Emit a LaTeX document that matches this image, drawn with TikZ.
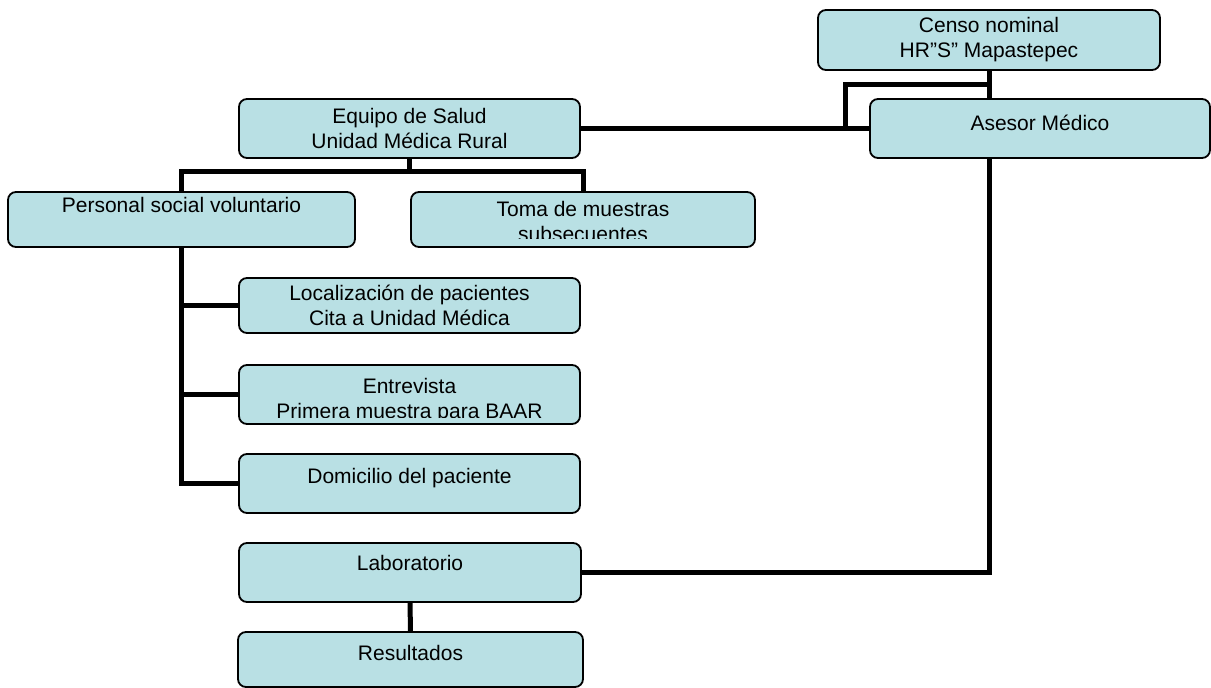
\documentclass[tikz,border=0pt]{standalone}
\usepackage{fontspec}
\setmainfont{Liberation Sans}
\usetikzlibrary{positioning}
\definecolor{boxblue}{HTML}{B9E0E4}

\tikzset{
  orgbox/.style={draw,line width=0.9pt,rounded corners=4pt,fill=boxblue,inner sep=0pt},
  orgtext/.style={align=center,inner sep=0pt,font=\fontsize{10.5}{12.5}\selectfont},
  link/.style={line width=2.5pt}
}

\begin{document}
\begin{tikzpicture}[x=0.5pt,y=-0.5pt]
  \useasboundingbox (0,0) rectangle (1211,688);
  % boxes
  \node[orgbox,minimum width=171pt,minimum height=30pt] (censo) at (989,40) {};
  \node[orgbox,minimum width=170pt,minimum height=29.5pt] (asesor) at (1040,128.5) {};
  \node[orgbox,minimum width=170.5pt,minimum height=29.5pt] (equipo) at (409.5,128.5) {};
  \node[orgbox,minimum width=173.5pt,minimum height=27.5pt] (personal) at (181.5,219.5) {};
  \node[orgbox,minimum width=172pt,minimum height=27.5pt] (toma) at (583,219.5) {};
  \node[orgbox,minimum width=170.5pt,minimum height=27.5pt] (loc) at (409.5,305.5) {};
  \node[orgbox,minimum width=170.5pt,minimum height=29.5pt] (entre) at (409.5,394.5) {};
  \node[orgbox,minimum width=170.5pt,minimum height=29.5pt] (domic) at (409.5,483.5) {};
  \node[orgbox,minimum width=171pt,minimum height=29.5pt] (lab) at (410,572.5) {};
  \node[orgbox,minimum width=172.5pt,minimum height=27.5pt] (result) at (410.5,659.5) {};

  % texts
  \node[orgtext] (censo-t) at (censo.center) {Censo nominal\\HR”S” Mapastepec};
  \node[orgtext,yshift=2.75pt] (asesor-t) at (asesor.center) {Asesor Médico};
  \node[orgtext] (equipo-t) at (equipo.center) {Equipo de Salud\\Unidad Médica Rural};
  \node[orgtext,yshift=7.25pt] (personal-t) at (personal.center) {Personal social voluntario};
  \begin{scope}
    \clip ([yshift=4.5pt]toma.south west) rectangle (toma.north east);
    \node[orgtext,yshift=-1.25pt] (toma-t) at (toma.center) {Toma de muestras\\subsecuentes};
  \end{scope}
  \node[orgtext] (loc-t) at (loc.center) {Localización de pacientes\\Cita a Unidad Médica};
  \begin{scope}
    \clip ([yshift=3.5pt]entre.south west) rectangle (entre.north east);
    \node[orgtext,yshift=-2.85pt] (entre-t) at (entre.center) {Entrevista\\Primera muestra para BAAR};
  \end{scope}
  \node[orgtext,yshift=2.75pt] (domic-t) at (domic.center) {Domicilio del paciente};
  \node[orgtext,yshift=4.75pt] (lab-t) at (lab.center) {Laboratorio};
  \node[orgtext,yshift=3.25pt] (result-t) at (result.center) {Resultados};

  % connectors
  \coordinate (cjoin) at (989,85);
  \coordinate (ajoin) at (845,128.5);
  \coordinate (ebus) at (409.5,172);
  \draw[link] (censo.south) -- (censo.south |- asesor.north);
  \draw[link] (cjoin) -| (ajoin);
  \draw[link] (equipo.east) -- (asesor.west);
  \draw[link] (equipo.south) -- (ebus) -| (personal.north);
  \draw[link] (ebus) -| (toma.north);
  \draw[link] (personal.south) |- (loc.west);
  \draw[link] (personal.south) |- (entre.west);
  \draw[link] (personal.south) |- (domic.west);
  \draw[link] (lab.east) -| (censo.south |- asesor.south);
  \draw[link] (lab.south) -- (result.north);
\end{tikzpicture}
\end{document}
